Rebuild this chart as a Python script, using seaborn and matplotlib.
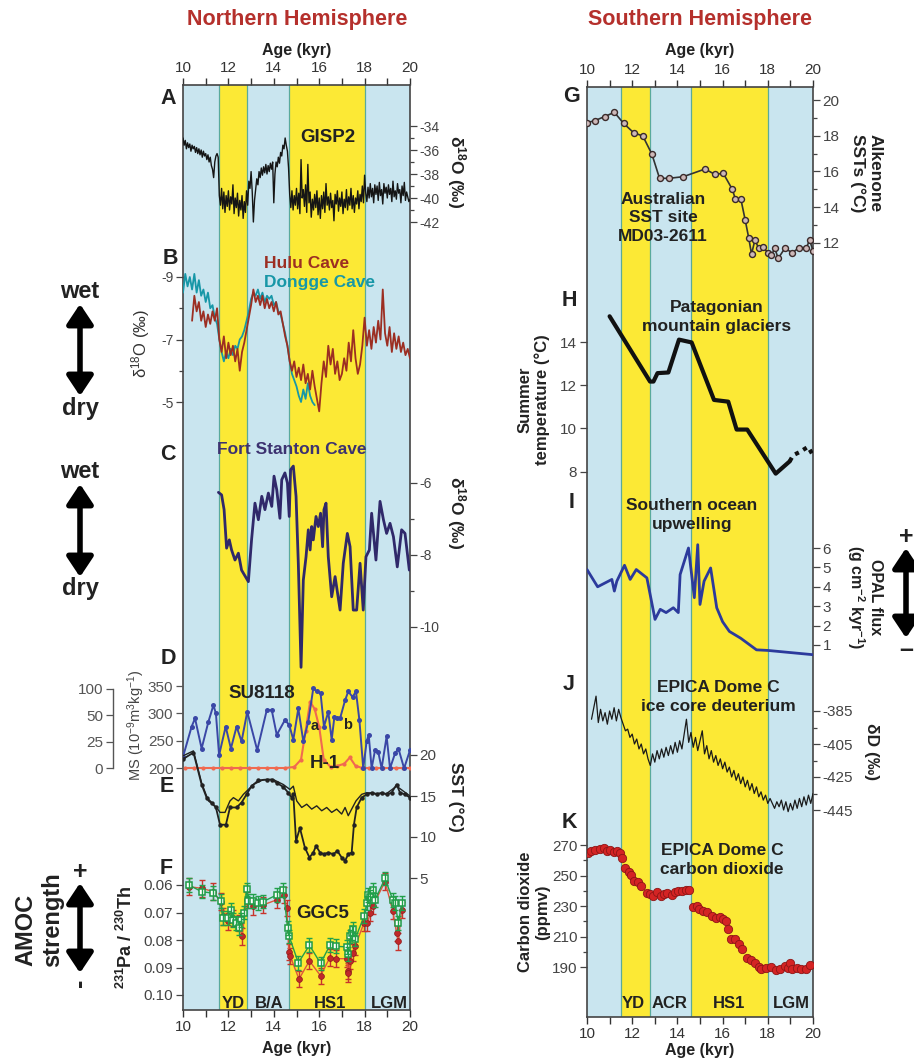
import numpy as np
import matplotlib
matplotlib.use("Agg")
import matplotlib.pyplot as plt
import seaborn as sns

sns.set_style("white")
plt.rcParams["font.family"] = ["Liberation Sans", "DejaVu Sans"]
plt.rcParams["mathtext.fontset"] = "custom"
plt.rcParams["mathtext.rm"] = "Liberation Sans"
plt.rcParams["mathtext.bf"] = "Liberation Sans:bold"
plt.rcParams["mathtext.it"] = "Liberation Sans:italic"
plt.rcParams["axes.unicode_minus"] = False

# ---------------------------------------------------------------- data
# climate intervals (kyr)
NH_BOUNDS = [11.6, 12.8, 14.65, 18.0]
SH_BOUNDS = [11.5, 12.8, 14.6, 18.0]
NH_PERIODS = ["YD", "B/A", "HS1", "LGM"]
SH_PERIODS = ["YD", "ACR", "HS1", "LGM"]

# A  GISP2 d18O, 0.05 kyr steps from 10 to 20 kyr
GISP2_AGE = np.linspace(10, 20, 201)
GISP2_D18O = [
    -35.0, -35.6, -35.2, -35.9, -35.4, -35.8, -35.5, -36.1, -35.6, -35.9, -35.7, -36.2, -35.8, -36.3, -35.9, -36.4, -36.0, -36.6, -36.1, -36.5,
    -36.3, -36.8, -36.4, -37.0, -36.6, -37.3, -37.6, -38.3, -37.0, -36.5, -36.3, -36.6, -39.8, -40.6, -39.2, -40.9, -39.5, -41.2, -39.8, -40.7,
    -39.4, -41.0, -39.9, -40.5, -38.9, -41.3, -40.0, -40.8, -39.6, -41.5, -40.2, -41.0, -39.8, -41.7, -40.3, -41.2, -39.4, -40.6, -38.6, -39.2,
    -37.8, -39.5, -42.0, -40.2, -39.3, -38.4, -38.9, -37.8, -38.3, -37.5, -38.1, -37.4, -37.9, -37.2, -38.0, -37.3, -37.8, -37.1, -37.6, -37.0,
    -40.4, -38.0, -37.0, -37.4, -36.6, -37.1, -36.2, -36.5, -35.6, -35.9, -35.0, -35.6, -36.1, -37.5, -39.7, -40.8, -39.4, -41.0, -39.8, -40.6,
    -39.2, -40.9, -39.6, -41.3, -36.8, -40.0, -39.3, -40.7, -38.9, -41.2, -37.2, -40.4, -39.5, -41.6, -40.1, -41.0, -39.7, -40.8, -39.4, -41.4,
    -40.0, -41.7, -39.8, -40.9, -39.5, -41.2, -38.8, -40.6, -39.9, -41.0, -39.6, -40.8, -40.2, -41.9, -39.7, -40.5, -39.4, -41.1, -40.0, -40.7,
    -39.5, -41.3, -40.1, -40.8, -39.3, -41.0, -39.9, -40.6, -39.2, -40.9, -39.8, -41.2, -40.0, -40.5, -39.4, -40.9, -39.7, -40.3, -39.0, -40.4,
    -38.1, -39.6, -40.3, -39.1, -40.0, -38.8, -39.9, -39.2, -40.4, -38.9, -39.7, -39.0, -40.2, -38.7, -39.8, -39.3, -40.5, -38.8, -39.6, -39.1,
    -40.0, -38.9, -39.7, -39.2, -40.3, -38.6, -39.9, -39.4, -40.1, -38.8, -39.6, -39.3, -40.4, -39.0, -39.8, -38.7, -40.2, -39.5, -39.9, -40.3,
    -40.1,
]

# B  Chinese caves d18O, 0.1 kyr steps
HULU_AGE = np.arange(104, 201) / 10
HULU_D18O = [
    -7.6, -8.4, -7.9, -8.2, -7.6, -7.9,
    -7.4, -7.8, -7.5, -7.9, -7.6, -8.0, -7.0, -6.6, -7.1, -6.4,
    -6.9, -6.5, -6.8, -6.3, -6.7, -6.0, -6.6, -6.9, -7.3, -7.7,
    -8.1, -8.6, -8.2, -8.4, -8.1, -8.4, -8.0, -8.3, -8.0, -8.2,
    -7.9, -8.2, -7.8, -7.9, -7.5, -7.1, -6.8, -6.3, -6.0, -6.3,
    -5.8, -6.1, -5.7, -6.2, -5.6, -5.9, -5.4, -6.0, -5.5, -5.1,
    -4.7, -5.6, -6.3, -5.8, -6.8, -6.2, -6.7, -5.9, -6.3, -5.7,
    -5.9, -6.4, -6.0, -6.9, -6.3, -7.3, -6.4, -5.9, -6.2, -6.8,
    -7.7, -6.8, -7.3, -6.7, -7.4, -6.9, -7.6, -7.0, -8.6, -7.2,
    -6.8, -7.4, -6.6, -7.2, -6.7, -7.1, -6.6, -6.9, -6.5, -6.7,
    -6.4,
]
DONGGE_AGE = np.arange(100, 159) / 10
DONGGE_D18O = [
    -8.5, -9.1, -8.7, -9.0, -8.6, -9.1, -8.5, -8.9, -8.4, -8.6,
    -8.2, -8.5, -8.0, -8.1, -7.7, -7.5, -7.0, -6.6, -6.3, -6.6,
    -6.4, -6.7, -6.5, -6.8, -6.7, -7.0, -7.1, -7.3, -7.6, -7.9,
    -8.3, -8.5, -8.4, -8.6, -8.3, -8.5, -8.2, -8.4, -8.3, -8.4,
    -8.1, -8.2, -7.9, -7.8, -7.5, -7.2, -6.8, -6.3, -5.9, -5.7,
    -5.5, -5.2, -5.0, -5.4, -5.1, -5.6, -5.2, -5.0, -4.9,
]

# C  Fort Stanton Cave d18O
FS_AGE = [11.56, 11.70, 11.81, 11.92, 12.04, 12.14, 12.29, 12.44, 12.58, 12.88, 13.02, 13.17, 13.32,
          13.47, 13.61, 13.76, 13.91, 14.01, 14.13, 14.27, 14.35, 14.49, 14.60, 14.68, 14.74, 14.86,
          14.98, 15.08, 15.20, 15.30, 15.42, 15.52, 15.60, 15.67, 15.74, 15.86, 15.96, 16.06, 16.15,
          16.21, 16.30, 16.40, 16.55, 16.70, 16.92, 17.06, 17.24, 17.36, 17.50, 17.65, 17.80, 17.94,
          18.06, 18.21, 18.31, 18.50, 18.68, 18.83, 18.97, 19.12, 19.27, 19.44, 19.63, 19.78, 19.97]
FS_D18O = [-6.26, -6.33, -6.74, -7.81, -7.58, -7.86, -8.14, -7.95, -8.42, -8.74, -7.58, -6.56, -7.02,
           -6.37, -6.74, -6.28, -6.65, -5.81, -6.19, -6.98, -5.91, -5.72, -6.00, -6.93, -5.63, -5.53,
           -6.37, -8.23, -11.12, -8.70, -8.05, -7.30, -7.86, -7.21, -7.58, -6.93, -7.21, -6.84, -7.77,
           -6.74, -6.56, -8.05, -9.16, -8.60, -9.53, -8.23, -7.40, -7.77, -9.53, -9.53, -8.23, -9.53,
           -8.05, -7.86, -6.84, -8.14, -6.51, -7.02, -7.40, -7.12, -7.49, -8.33, -7.30, -7.40, -8.42]

# D  SU8118 magnetic susceptibility and H-1 layer
SU_AGE = [10.00, 10.38, 10.53, 10.82, 11.12, 11.34, 11.45, 11.59, 11.88, 12.11, 12.36, 12.58, 12.83,
          13.27, 13.69, 13.91, 14.13, 14.49, 14.68, 14.86, 15.08, 15.30, 15.52, 15.74, 15.89, 16.06,
          16.21, 16.40, 16.55, 16.67, 16.80, 16.92, 17.14, 17.28, 17.47, 17.62, 17.77, 17.94, 18.09,
          18.18, 18.31, 18.46, 18.60, 18.75, 18.97, 19.12, 19.34, 19.49, 19.74, 20.00]
SU_MS = [221, 276, 291, 236, 285, 315, 300, 224, 276, 236, 276, 249, 303,
         233, 306, 306, 261, 288, 279, 252, 309, 249, 285, 346, 340, 337,
         276, 303, 252, 294, 291, 291, 324, 340, 330, 340, 288, 200, 249,
         261, 200, 233, 230, 200, 258, 200, 227, 236, 200, 233]
H1_AGE = [10.1, 10.5, 10.9, 11.3, 11.7, 12.1, 12.5, 12.9, 13.3, 13.7, 14.1, 14.5, 14.9, 15.2, 15.4,
          15.6, 15.8, 16.0, 16.2, 16.5, 16.8, 17.1, 17.35, 17.6, 17.9, 18.2, 18.5, 18.8, 19.1, 19.4,
          19.7, 20.0]
H1_PCT = [0, 0, 0, 0, 0, 0, 0, 0, 0, 0, 0, 0, 1, 8, 35,
          76, 62, 39, 8, 1, 2, 4, 10, 2, 0, 0, 0, 0, 0, 0,
          0, 0]
H1_TICKS = [0, 25, 50, 100]

# E  North Atlantic SST reconstructions
SSTA_AGE = [10.00, 10.46, 10.82, 11.04, 11.26, 11.45, 11.63, 11.89, 12.07, 12.36, 12.58, 12.80, 13.02,
            13.32, 13.69, 13.91, 14.13, 14.42, 14.64, 14.79, 14.86, 14.98, 15.15, 15.37, 15.57, 15.74,
            15.86, 16.04, 16.21, 16.40, 16.62, 16.80, 16.99, 17.14, 17.28, 17.43, 17.53, 17.65, 17.87,
            18.09, 18.31, 18.53, 18.75, 18.97, 19.19, 19.41, 19.56, 19.78, 20.00]
SSTA = [19.5, 20.3, 16.4, 14.8, 14.2, 13.6, 11.5, 11.5, 13.6, 13.6, 14.2, 15.2, 16.2,
        16.9, 17.0, 17.0, 16.6, 16.1, 15.4, 14.8, 15.2, 9.5, 11.1, 8.7, 7.5, 8.1,
        8.9, 8.1, 7.9, 8.1, 7.9, 8.3, 7.5, 7.1, 7.9, 8.1, 11.5, 13.6, 14.8,
        15.2, 15.4, 15.2, 15.4, 15.2, 15.4, 16.4, 15.4, 15.2, 14.8]
SSTB_AGE = [10.00, 10.46, 10.82, 11.12, 11.48, 11.63, 11.85, 12.07, 12.22, 12.44, 12.66, 13.10, 13.54,
            13.98, 14.42, 14.71, 14.86, 15.01, 15.23, 15.45, 15.67, 15.89, 16.11, 16.33, 16.55, 16.77,
            16.99, 17.14, 17.28, 17.43, 17.62, 17.87, 18.09, 18.53, 18.97, 19.41, 20.00]
SSTB = [19.9, 20.5, 16.6, 14.4, 13.6, 13.0, 13.0, 14.4, 14.8, 14.4, 15.2, 16.4, 17.0,
        17.0, 16.4, 15.8, 16.2, 14.4, 13.6, 14.0, 13.4, 13.8, 13.2, 13.6, 13.0, 13.4,
        12.8, 13.6, 12.6, 13.4, 14.4, 15.2, 15.4, 15.3, 15.3, 16.2, 15.0]

# F  GGC5 231Pa/230Th
GG_AGE = [10.25, 10.82, 11.34, 11.66, 11.75, 11.97, 12.11, 12.22, 12.32, 12.47, 12.57, 12.69, 12.80,
          12.88, 13.10, 13.32, 13.54, 14.13, 14.42, 14.61, 14.68, 15.08, 15.57, 16.06, 16.47, 16.74,
          17.21, 17.28, 17.36, 17.43, 17.50, 17.58, 17.97, 18.12, 18.16, 18.25, 18.36, 18.46, 18.90,
          19.24, 19.34, 19.49, 19.63]
GG_PA = [0.0600, 0.0624, 0.0630, 0.0657, 0.0720, 0.0720, 0.0690, 0.0726, 0.0739, 0.0757, 0.0726, 0.0700, 0.0616,
         0.0657, 0.0657, 0.0666, 0.0660, 0.0636, 0.0618, 0.0757, 0.0787, 0.0883, 0.0819, 0.0885, 0.0819, 0.0823,
         0.0825, 0.0852, 0.0787, 0.0775, 0.0760, 0.0798, 0.0714, 0.0666, 0.0636, 0.0642, 0.0618, 0.0654, 0.0576,
         0.0654, 0.0666, 0.0739, 0.0666]
GR_AGE = [10.25, 10.82, 11.34, 11.66, 11.75, 11.97, 12.22, 12.47, 12.60, 12.80, 13.10, 13.54, 14.13,
          14.45, 14.57, 14.66, 14.72, 15.11, 15.57, 16.06, 16.47, 16.74, 17.21, 17.25, 17.28, 17.36,
          17.50, 17.58, 17.97, 18.12, 18.25, 18.36, 18.90, 19.24, 19.41, 19.49, 19.63]
GR_PA = [0.0606, 0.0612, 0.0624, 0.0660, 0.0714, 0.0732, 0.0720, 0.0739, 0.0787, 0.0654, 0.0678, 0.0672, 0.0654,
         0.0636, 0.0684, 0.0843, 0.0858, 0.0942, 0.0876, 0.0930, 0.0864, 0.0868, 0.0868, 0.0912, 0.0921, 0.0876,
         0.0846, 0.0823, 0.0739, 0.0739, 0.0702, 0.0676, 0.0588, 0.0694, 0.0775, 0.0805, 0.0690]
GG_ERR = 0.0025
GR_ERR = 0.003

# G  Alkenone SST MD03-2611
G_AGE = [10.00, 10.34, 10.78, 11.21, 11.62, 12.06, 12.47, 12.87, 13.21, 13.63, 14.26, 15.22, 15.66,
         16.03, 16.43, 16.57, 16.81, 17.00, 17.16, 17.28, 17.43, 17.60, 17.79, 18.01, 18.16, 18.31,
         18.46, 18.75, 19.09, 19.38, 19.71, 19.85, 20.00]
G_SST = [18.73, 18.84, 19.07, 19.31, 18.69, 18.17, 17.98, 16.97, 15.61, 15.61, 15.70, 16.13, 15.83,
         15.89, 14.99, 14.43, 14.43, 13.27, 12.24, 11.36, 12.15, 11.68, 11.74, 11.44, 11.31, 11.68,
         11.12, 11.68, 11.44, 11.72, 11.72, 12.15, 11.55]

# H  Patagonian glacier summer temperature
H_AGE = [11.00, 12.79, 12.94, 13.12, 13.60, 14.07, 14.63, 15.62, 16.25, 16.62, 17.09, 18.35, 18.97]
H_TEMP = [15.19, 12.17, 12.17, 12.56, 12.59, 14.11, 13.98, 11.32, 11.24, 9.95, 9.95, 7.91, 8.48]
H_AGE_UNCERTAIN = [18.97, 19.12, 19.41, 19.78, 20.00]
H_TEMP_UNCERTAIN = [8.48, 8.76, 8.91, 9.15, 8.76]

# I  Southern Ocean opal flux
I_AGE = [10.00, 10.47, 11.10, 11.21, 11.32, 11.66, 11.91, 12.18, 12.65, 13.01, 13.24, 13.50, 13.82,
         14.04, 14.12, 14.49, 14.75, 14.90, 15.00, 15.18, 15.47, 15.74, 16.00, 16.30, 16.80, 17.50,
         18.00, 20.00]
I_OPAL = [4.89, 4.00, 4.38, 3.78, 4.29, 5.11, 4.38, 4.89, 4.46, 2.32, 2.84, 2.67, 2.92,
          2.67, 4.63, 6.00, 3.44, 6.17, 3.09, 4.29, 4.97, 2.92, 2.20, 1.70, 1.35, 0.75,
          0.72, 0.50]

# J  EPICA Dome C deuterium, 0.1 kyr steps
J_AGE = np.arange(102, 201) / 10
J_DD = [
    -390, -383, -376, -392, -384, -391, -386, -393,
    -385, -390, -383, -391, -384, -389, -393, -397, -396, -401,
    -399, -405, -402, -408, -405, -411, -408, -414, -418, -411,
    -416, -409, -414, -408, -413, -407, -412, -406, -411, -404,
    -410, -403, -408, -399, -390, -404, -398, -407, -401, -409,
    -403, -397, -411, -406, -414, -409, -416, -412, -418, -414,
    -420, -416, -422, -419, -425, -421, -427, -423, -429, -425,
    -431, -427, -433, -429, -435, -431, -437, -434, -439, -436,
    -441, -438, -441, -444, -440, -443, -439, -445, -440, -446,
    -441, -445, -439, -444, -438, -443, -437, -442, -436, -441,
    -435,
]

# K  EPICA Dome C CO2
K_AGE = [10.03, 10.18, 10.37, 10.56, 10.74, 10.88, 11.03, 11.18, 11.32, 11.47, 11.57, 11.66, 11.84,
         11.96, 12.09, 12.24, 12.40, 12.65, 12.79, 12.94, 13.09, 13.26, 13.41, 13.56, 13.75, 13.90,
         14.04, 14.19, 14.38, 14.53, 14.68, 14.85, 14.97, 15.12, 15.29, 15.51, 15.71, 15.88, 16.03,
         16.15, 16.25, 16.35, 16.54, 16.71, 16.84, 17.06, 17.24, 17.43, 17.60, 17.72, 17.94, 18.12,
         18.35, 18.56, 18.75, 18.90, 18.97, 19.09, 19.29, 19.49, 19.68, 19.88]
K_CO2 = [265.0, 266.3, 266.7, 267.2, 267.8, 266.3, 266.7, 265.7, 266.3, 265.0, 261.3, 254.8, 252.6,
         250.4, 246.7, 245.7, 242.8, 238.5, 238.0, 236.3, 239.1, 236.7, 238.0, 238.5, 237.4, 239.3,
         240.0, 239.6, 240.7, 240.2, 229.1, 229.8, 228.0, 226.5, 225.9, 223.3, 222.2, 222.8, 221.5,
         220.0, 214.6, 208.5, 208.5, 204.8, 201.5, 196.1, 194.6, 192.8, 190.2, 188.5, 189.6, 190.2,
         188.0, 188.9, 190.7, 189.6, 192.8, 188.5, 189.6, 188.9, 188.5, 191.3]

# ---------------------------------------------------------------- style
W, H = 914, 1061
BLUE_BAND = "#c9e5ef"
YELLOW_BAND = "#fce935"
BAND_EDGE = "#5aaa9c"
TXT = "#222222"
TICK = "#444444"
TITLE_RED = "#b5302c"

fig = plt.figure(figsize=(W / 100, H / 100), dpi=100)


def rect(x0, y0, x1, y1):
    """Pixel box (top-left origin) -> figure fraction rectangle."""
    return [x0 / W, 1 - y1 / H, (x1 - x0) / W, (y1 - y0) / H]


def column_frame(box, bounds):
    ax = fig.add_axes(rect(*box))
    ax.set_xlim(10, 20)
    ax.set_ylim(0, 1)
    edges = [10] + bounds + [20]
    fills = [BLUE_BAND, YELLOW_BAND, BLUE_BAND, YELLOW_BAND, BLUE_BAND]
    for a, b, c in zip(edges[:-1], edges[1:], fills):
        ax.axvspan(a, b, color=c, lw=0, zorder=0)
    for b in bounds:
        ax.axvline(b, color=BAND_EDGE, lw=0.9, zorder=0.5)
    ax.set_yticks([])
    ax.set_xticks(range(10, 21, 2))
    ax.set_xticks(range(11, 20, 2), minor=True)
    ax.tick_params(axis="x", which="both", top=True, bottom=True, labeltop=True,
                   labelbottom=True, direction="out", length=5, width=1.0,
                   colors="#333333", labelsize=11, pad=2)
    for s in ax.spines.values():
        s.set_color("#444444")
        s.set_linewidth(1.2)
    return ax


def panel(xspan, top, bot, cal, side, major, minor=None, fmt=None, scale=None):
    """Transparent strip between pixel rows top/bot; cal gives two (pixel, value) pairs."""
    ax = fig.add_axes(rect(xspan[0], top, xspan[1], bot))
    ax.patch.set_alpha(0)
    for s in ax.spines.values():
        s.set_visible(False)
    (pa, va), (pb, vb) = cal
    if scale is not None:
        fwd, inv = scale
        ax.set_yscale("function", functions=(fwd, inv))
        ua, ub = fwd(np.array(va, float)), fwd(np.array(vb, float))
        k = (ub - ua) / (pb - pa)
        ax._lims = (inv(np.array(ua + (bot - pa) * k)), inv(np.array(ua + (top - pa) * k)))
    else:
        k = (vb - va) / (pb - pa)
        ax._lims = (va + (bot - pa) * k, va + (top - pa) * k)
    ax._major, ax._minor, ax._fmt, ax._side = major, minor, fmt, side
    return ax


def finish(ax):
    ax.set_xlim(10, 20)
    ax.set_ylim(*ax._lims)
    ax.set_xticks([])
    ax.set_xlabel("")
    ax.set_ylabel("")
    ax.set_yticks(ax._major)
    if ax._minor is not None:
        ax.set_yticks(ax._minor, minor=True)
    else:
        ax.set_yticks([], minor=True)
    if ax._fmt is not None:
        ax.set_yticklabels(ax._fmt)
    left = ax._side == "left"
    ax.tick_params(axis="y", which="both", left=left, right=not left,
                   labelleft=left, labelright=not left, direction="out",
                   colors=TICK, labelsize=10, pad=2, width=0.9)
    ax.tick_params(axis="y", which="major", length=5)
    ax.tick_params(axis="y", which="minor", length=3)
    if ax.get_legend() is not None:
        ax.get_legend().remove()


NH = (183, 410)
SH = (587, 813)

column_frame((183, 85, 410, 1010), NH_BOUNDS)
column_frame((587, 87, 813, 1017), SH_BOUNDS)

# ---- A  GISP2
axA = panel(NH, 105, 245, [(126, -34), (222, -42)], "right",
            [-34, -36, -38, -40, -42], [-35, -37, -39, -41])
sns.lineplot(x=GISP2_AGE, y=GISP2_D18O, ax=axA, estimator=None, sort=False,
             color="#151515", lw=1.0)
finish(axA)

# ---- B  Hulu / Dongge
axB = panel(NH, 250, 420, [(277, -9), (402, -5)], "left", [-9, -7, -5], [-8, -6])
sns.lineplot(x=DONGGE_AGE, y=DONGGE_D18O, ax=axB, estimator=None, sort=False,
             color="#1797a7", lw=1.3)
sns.lineplot(x=HULU_AGE, y=HULU_D18O, ax=axB, estimator=None, sort=False,
             color="#9c2e22", lw=1.3)
finish(axB)

# ---- C  Fort Stanton
axC = panel(NH, 440, 700, [(483, -6), (627, -10)], "right", [-6, -8, -10], [-7, -9])
sns.lineplot(x=FS_AGE, y=FS_D18O, ax=axC, estimator=None, sort=False,
             color="#30296a", lw=2.0)
finish(axC)


# ---- D  H-1 layer (broken 0-25-50-100 scale) and SU8118 MS
def h1_fwd(v):
    v = np.asarray(v, float)
    return np.where(v <= 50, v / 25.0, 2 + (v - 50) / 50.0)


def h1_inv(u):
    u = np.asarray(u, float)
    return np.where(u <= 2, u * 25.0, 50 + (u - 2) * 50.0)


axDr = panel(NH, 660, 790, [(768, 0), (689, 100)], "left", H1_TICKS,
             fmt=[str(t) for t in H1_TICKS], scale=(h1_fwd, h1_inv))
sns.lineplot(x=H1_AGE, y=H1_PCT, ax=axDr, estimator=None, sort=False,
             color="#f06a50", lw=1.5, marker="o", markersize=3, markeredgewidth=0)
finish(axDr)
axDr.spines["left"].set_visible(True)
axDr.spines["left"].set_position(("outward", 50.4))
axDr.spines["left"].set_bounds(0, 100)
axDr.spines["left"].set_color("#555555")
axDr.spines["left"].set_linewidth(1.0)
axDr.tick_params(axis="y", labelsize=11, colors="#555555")

axD = panel(NH, 660, 790, [(686, 350), (768.3, 200)], "left", [200, 250, 300, 350])
sns.lineplot(x=SU_AGE, y=SU_MS, ax=axD, estimator=None, sort=False,
             color="#3a47a6", lw=1.4, marker="o", markersize=3.6, markeredgewidth=0)
finish(axD)
axD.tick_params(axis="y", labelsize=11, colors="#555555")

# ---- E  SST
axE = panel(NH, 735, 890, [(755, 20), (878, 5)], "right", [5, 10, 15, 20])
sns.lineplot(x=SSTB_AGE, y=SSTB, ax=axE, estimator=None, sort=False,
             color="#222222", lw=1.0)
sns.lineplot(x=SSTA_AGE, y=SSTA, ax=axE, estimator=None, sort=False,
             color="#222222", lw=1.3, marker="o", markersize=3.2, markeredgewidth=0)
finish(axE)
axE.tick_params(axis="y", labelsize=11)

# ---- F  GGC5 Pa/Th
axF = panel(NH, 860, 1005, [(885, 0.06), (995, 0.10)], "left",
            [0.06, 0.07, 0.08, 0.09, 0.10],
            fmt=["0.06", "0.07", "0.08", "0.09", "0.10"])
axF.errorbar(GR_AGE, GR_PA, yerr=GR_ERR, fmt="none", ecolor="#c8342c",
             elinewidth=1.0, capsize=2, zorder=2)
sns.lineplot(x=GR_AGE, y=GR_PA, ax=axF, estimator=None, sort=False,
             color="#e0553c", lw=1.0, marker="o", markersize=4.2,
             markerfacecolor="#c0282a", markeredgecolor="#8c1c1c", markeredgewidth=0.5)
axF.errorbar(GG_AGE, GG_PA, yerr=GG_ERR, fmt="none", ecolor="#22a04a",
             elinewidth=1.0, capsize=2, zorder=3)
sns.lineplot(x=GG_AGE, y=GG_PA, ax=axF, estimator=None, sort=False,
             color="#22a04a", lw=1.0, marker="s", markersize=4.5,
             markerfacecolor="white", markeredgecolor="#1e9a46", markeredgewidth=1.1)
finish(axF)
axF.tick_params(axis="y", labelsize=11)

# ---- G  Alkenone SST
axG = panel(SH, 88, 265, [(100, 20), (242.7, 12)], "right",
            [12, 14, 16, 18, 20], [13, 15, 17, 19])
sns.lineplot(x=G_AGE, y=G_SST, ax=axG, estimator=None, sort=False,
             color="#333333", lw=1.2, marker="o", markersize=4.3,
             markerfacecolor="#cdb8b8", markeredgecolor="#3a2a2a", markeredgewidth=1.0)
finish(axG)
axG.tick_params(axis="y", labelsize=11)

# ---- H  Patagonian glaciers
axH = panel(SH, 300, 485, [(342, 14), (471.7, 8)], "left", [8, 10, 12, 14])
sns.lineplot(x=H_AGE, y=H_TEMP, ax=axH, estimator=None, sort=False,
             color="#111111", lw=3.0)
sns.lineplot(x=H_AGE_UNCERTAIN, y=H_TEMP_UNCERTAIN, ax=axH, estimator=None, sort=False,
             color="#111111", lw=3.0, linestyle=(0, (1, 1.2)))
finish(axH)
axH.tick_params(axis="y", labelsize=11)

# ---- I  Opal flux
axI = panel(SH, 520, 660, [(548, 6), (645, 1)], "right", [1, 2, 3, 4, 5, 6])
sns.lineplot(x=I_AGE, y=I_OPAL, ax=axI, estimator=None, sort=False,
             color="#2c3a9c", lw=2.0)
finish(axI)
axI.tick_params(axis="y", labelsize=11)

# ---- J  EPICA deuterium
axJ = panel(SH, 670, 825, [(711, -385), (810, -445)], "right",
            [-385, -405, -425, -445], [-395, -415, -435])
sns.lineplot(x=J_AGE, y=J_DD, ax=axJ, estimator=None, sort=False,
             color="#1a1a1a", lw=0.9)
finish(axJ)
axJ.tick_params(axis="y", labelsize=11)

# ---- K  EPICA CO2
axK = panel(SH, 830, 1012, [(845, 270), (967, 190)], "left",
            [190, 210, 230, 250, 270], [200, 220, 240, 260])
sns.scatterplot(x=K_AGE, y=K_CO2, ax=axK, s=36, color="#d42424",
                edgecolor="#8e1616", linewidth=0.6, zorder=3)
finish(axK)
axK.tick_params(axis="y", labelsize=11)

# ---------------------------------------------------------------- annotations
ov = fig.add_axes([0, 0, 1, 1])
ov.set_xlim(0, W)
ov.set_ylim(H, 0)
ov.axis("off")
ov.patch.set_alpha(0)


def label(x, y, s, size=12.5, weight="bold", color=TXT, rot=0, ha="center",
          va="center", ls=1.25):
    ov.text(x, y, s, fontsize=size, fontweight=weight, color=color, rotation=rot,
            ha=ha, va=va, linespacing=ls, rotation_mode="anchor")


def updown_arrow(x, y0, y1):
    ov.annotate("", xy=(x, y0), xytext=(x, y1),
                arrowprops=dict(arrowstyle="<|-|>,head_length=0.75,head_width=0.5",
                                lw=4, color="black", shrinkA=0, shrinkB=0,
                                mutation_scale=16))


# column titles
label(297, 20, "Northern Hemisphere", size=15.5, color=TITLE_RED)
label(700, 20, "Southern Hemisphere", size=15.5, color=TITLE_RED)
for cx in (297, 700):
    label(cx, 50, "Age (kyr)", size=11.5)
label(297, 1048, "Age (kyr)", size=11.5)
label(700, 1050, "Age (kyr)", size=11.5)

# panel letters
for s, x, y in [("A", 168, 98), ("B", 170, 259), ("C", 168, 455), ("D", 168, 659),
                ("E", 167, 787), ("F", 166, 868),
                ("G", 571, 97), ("H", 569, 300), ("I", 572, 503), ("J", 569, 685),
                ("K", 569, 822)]:
    label(x, y, s, size=15.5)

# record names
label(328, 137, "GISP2", size=13.5)
label(264, 263, "Hulu Cave", size=12.5, color="#9c2e22", ha="left")
label(264, 283, "Dongge Cave", size=12.5, color="#1797a7", ha="left")
label(292, 450, "Fort Stanton Cave", size=12.5, color="#3c3270")
label(262, 693, "SU8118", size=13.5)
label(315, 726, "a", size=10.5)
label(348, 725, "b", size=10.5)
label(325, 764, "H-1", size=13.5)
label(323, 913, "GGC5", size=13.5)
for s, x in zip(NH_PERIODS, [233, 269, 330, 389]):
    label(x, 1004, s, size=12)

label(663, 218, "Australian\nSST site\nMD03-2611", size=12.5, ls=1.3)
label(717, 317, "Patagonian\nmountain glaciers", size=12.5, ls=1.3)
label(692, 515, "Southern ocean\nupwelling", size=12.5, ls=1.3)
label(718, 697, "EPICA Dome C\nice core deuterium", size=12.5, ls=1.3)
label(722, 860, "EPICA Dome C\ncarbon dioxide", size=12.5, ls=1.3)
for s, x in zip(SH_PERIODS, [633, 670, 729, 791]):
    label(x, 1004, s, size=12)

# axis titles
d18o = r"δ$^{\mathbf{18}}$O (‰)"
label(456, 172, d18o, size=12.5, rot=270)
label(141, 343, r"δ$^{18}$O (‰)", size=12, weight="normal", color="#333333", rot=90)
label(456, 513, d18o, size=12.5, rot=270)
label(136, 725, r"MS (10$^{-9}$m$^{3}$kg$^{-1}$)", size=10.5, weight="normal",
      color="#444444", rot=90)
label(456, 797, "SST (°C)", size=12.5, rot=270)
label(126, 937, r"$^{\mathbf{231}}$Pa / $^{\mathbf{230}}$Th", size=13, rot=90)

label(866, 173, "Alkenone\nSSTs (°C)", size=12.5, rot=270, ls=1.15)
label(534, 400, "Summer\ntemperature (°C)", size=12, rot=90, ls=1.15)
label(864, 597, "OPAL flux\n" + r"(g cm$^{\mathbf{-2}}$ kyr$^{\mathbf{-1}}$)",
      size=11.5, rot=270, ls=1.1)
label(872, 752, "δD (‰)", size=12.5, rot=270)
label(534, 912, "Carbon dioxide\n(ppmv)", size=12, rot=90, ls=1.15)

# wet / dry and circulation-strength arrows
label(80, 291, "wet", size=17)
updown_arrow(80, 304, 396)
label(80, 408, "dry", size=17)
label(80, 472, "wet", size=17)
updown_arrow(80, 484, 577)
label(80, 588, "dry", size=17)

label(26, 930, "AMOC", size=17, rot=90)
label(53, 920, "strength", size=17, rot=90)
label(80, 872, "+", size=18)
updown_arrow(80, 883, 973)
label(80, 983, "-", size=18, rot=90)

label(906, 537, "+", size=18)
updown_arrow(906, 548, 638)
label(906, 650, "–", size=18)

fig.savefig("out.png", dpi=100)
